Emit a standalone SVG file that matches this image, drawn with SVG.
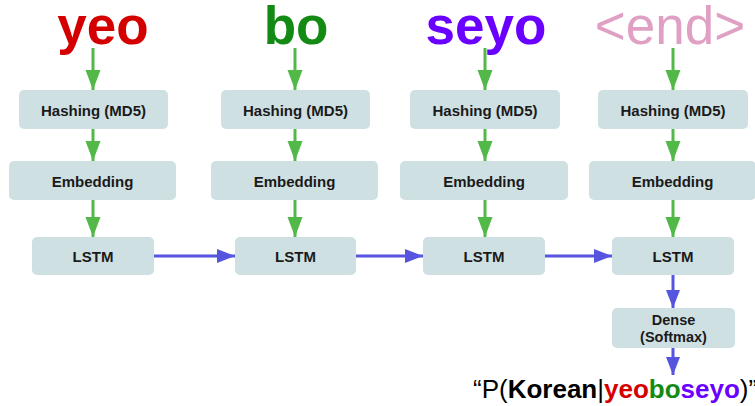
<svg xmlns="http://www.w3.org/2000/svg" width="755" height="406" viewBox="0 0 755 406">
<defs>
<style>
.box{fill:#cfe0e3;}
.lbl{font-family:"Liberation Sans",Arial,sans-serif;font-weight:bold;font-size:15px;fill:#1a1a1a;text-anchor:middle;}
.word{font-family:"Liberation Sans",Arial,sans-serif;font-size:53px;text-anchor:middle;}
.g{stroke:#52b848;stroke-width:3;fill:none;}
.b{stroke:#5555e0;stroke-width:3;fill:none;}
</style>
<marker id="ag" markerUnits="userSpaceOnUse" markerWidth="20" markerHeight="16" refX="20" refY="8" orient="auto"><path d="M0,0.5 L20,8 L0,15.5 z" fill="#52b848"/></marker>
<marker id="ab" markerUnits="userSpaceOnUse" markerWidth="18" markerHeight="15" refX="18" refY="7.5" orient="auto"><path d="M0,0.5 L18,7.5 L0,14.5 z" fill="#5555e0"/></marker>
</defs>
<rect width="755" height="406" fill="#ffffff"/>
<g id="words">
<text class="word" x="103" y="44" font-weight="bold" fill="#d40000">yeo</text>
<text class="word" x="296" y="44" font-weight="bold" fill="#138a13">bo</text>
<text class="word" x="486" y="44" font-weight="bold" fill="#6a00ff">seyo</text>
<text class="word" x="670" y="44" fill="#e0a0c4">&lt;end&gt;</text>
</g>
<g id="hash1"><rect class="box" x="19" y="90" width="149" height="39" rx="5"/><text class="lbl" x="93.5" y="116">Hashing (MD5)</text></g>
<g id="hash2"><rect class="box" x="221" y="90" width="149" height="39" rx="5"/><text class="lbl" x="295.5" y="116">Hashing (MD5)</text></g>
<g id="hash3"><rect class="box" x="410" y="90" width="150" height="39" rx="5"/><text class="lbl" x="485" y="116">Hashing (MD5)</text></g>
<g id="hash4"><rect class="box" x="598" y="90" width="150" height="39" rx="5"/><text class="lbl" x="673" y="116">Hashing (MD5)</text></g>
<g id="emb1"><rect class="box" x="9" y="161" width="167" height="39" rx="5"/><text class="lbl" x="92.5" y="187">Embedding</text></g>
<g id="emb2"><rect class="box" x="211" y="161" width="167" height="39" rx="5"/><text class="lbl" x="294.5" y="187">Embedding</text></g>
<g id="emb3"><rect class="box" x="400" y="161" width="168" height="39" rx="5"/><text class="lbl" x="484" y="187">Embedding</text></g>
<g id="emb4"><rect class="box" x="589" y="161" width="167" height="39" rx="5"/><text class="lbl" x="672.5" y="187">Embedding</text></g>
<g id="lstm1"><rect class="box" x="32" y="237" width="122" height="38" rx="5"/><text class="lbl" x="93" y="262">LSTM</text></g>
<g id="lstm2"><rect class="box" x="235" y="237" width="121" height="38" rx="5"/><text class="lbl" x="295.5" y="262">LSTM</text></g>
<g id="lstm3"><rect class="box" x="423" y="237" width="122" height="38" rx="5"/><text class="lbl" x="484" y="262">LSTM</text></g>
<g id="lstm4"><rect class="box" x="612" y="237" width="122" height="38" rx="5"/><text class="lbl" x="673" y="262">LSTM</text></g>
<g id="dense"><rect class="box" x="612" y="308" width="123" height="40" rx="5"/><text class="lbl" x="673.5" y="325" style="font-size:14.5px">Dense</text><text class="lbl" x="673.5" y="342" style="font-size:14.5px">(Softmax)</text></g>
<g id="connectors">
<path class="g" d="M93,48 V90" marker-end="url(#ag)"/>
<path class="g" d="M295,48 V90" marker-end="url(#ag)"/>
<path class="g" d="M485,48 V90" marker-end="url(#ag)"/>
<path class="g" d="M673,48 V90" marker-end="url(#ag)"/>
<path class="g" d="M93,129 V161" marker-end="url(#ag)"/>
<path class="g" d="M295,129 V161" marker-end="url(#ag)"/>
<path class="g" d="M485,129 V161" marker-end="url(#ag)"/>
<path class="g" d="M673,129 V161" marker-end="url(#ag)"/>
<path class="g" d="M93,200 V237" marker-end="url(#ag)"/>
<path class="g" d="M295,200 V237" marker-end="url(#ag)"/>
<path class="g" d="M485,200 V237" marker-end="url(#ag)"/>
<path class="g" d="M673,200 V237" marker-end="url(#ag)"/>
<path class="b" d="M154,256 H235" marker-end="url(#ab)"/>
<path class="b" d="M356,256 H423" marker-end="url(#ab)"/>
<path class="b" d="M545,256 H612" marker-end="url(#ab)"/>
<path class="b" d="M673,275 V308" marker-end="url(#ab)"/>
<path class="b" d="M673,348 V375" marker-end="url(#ab)"/>
</g>
<g id="output">
<text x="473" y="398" style="font-family:'Liberation Sans',Arial,sans-serif;font-size:26px" fill="#000">“P(<tspan font-weight="bold">Korean</tspan>|<tspan font-weight="bold" fill="#d40000">yeo</tspan><tspan font-weight="bold" fill="#138a13">bo</tspan><tspan font-weight="bold" fill="#6a00ff">seyo</tspan>)”</text>
</g>
</svg>
